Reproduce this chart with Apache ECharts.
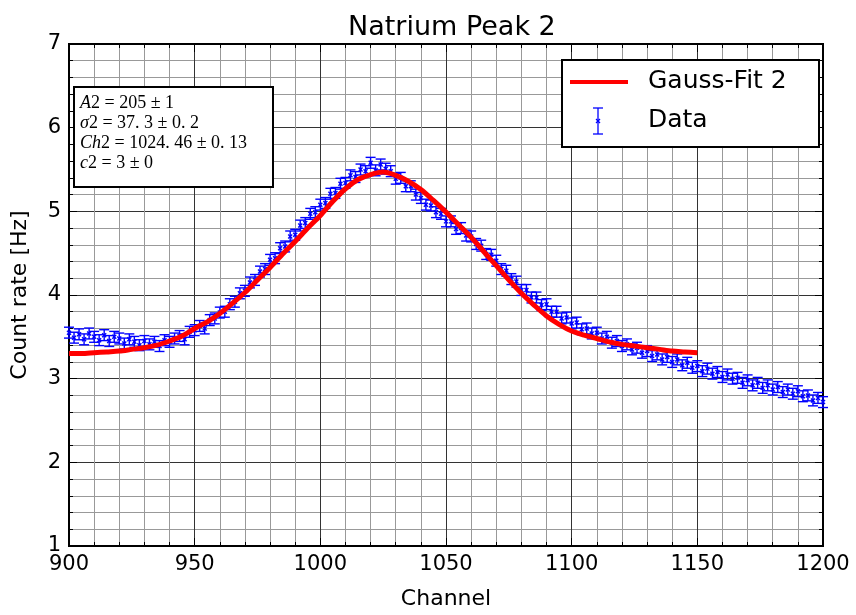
<html>
  <head>
    <meta charset="utf-8">
    <title>Natrium Peak 2</title>
    <script src="https://cdn.jsdelivr.net/npm/echarts@6.0.0/dist/echarts.min.js"></script>
    <style>
      html, body { margin: 0; padding: 0; background: #fff; }
      #main { width: 856px; height: 615px; }
    </style>
  </head>
  <body>
    <div id="main"></div>
    <script type="text/javascript">
      // measured data: channel / count rate [Hz]
      var dataChannels = [
        900, 902, 904, 906, 908, 910, 912, 914, 916, 918, 920, 922, 924, 926, 928, 930, 932, 934, 936, 938,
        940, 942, 944, 946, 948, 950, 952, 954, 956, 958, 960, 962, 964, 966, 968, 970, 972, 974, 976, 978,
        980, 982, 984, 986, 988, 990, 992, 994, 996, 998, 1000, 1002, 1004, 1006, 1008, 1010, 1012, 1014, 1016, 1018,
        1020, 1022, 1024, 1026, 1028, 1030, 1032, 1034, 1036, 1038, 1040, 1042, 1044, 1046, 1048, 1050, 1052, 1054, 1056, 1058,
        1060, 1062, 1064, 1066, 1068, 1070, 1072, 1074, 1076, 1078, 1080, 1082, 1084, 1086, 1088, 1090, 1092, 1094, 1096, 1098,
        1100, 1102, 1104, 1106, 1108, 1110, 1112, 1114, 1116, 1118, 1120, 1122, 1124, 1126, 1128, 1130, 1132, 1134, 1136, 1138,
        1140, 1142, 1144, 1146, 1148, 1150, 1152, 1154, 1156, 1158, 1160, 1162, 1164, 1166, 1168, 1170, 1172, 1174, 1176, 1178,
        1180, 1182, 1184, 1186, 1188, 1190, 1192, 1194, 1196, 1198, 1200
      ];
      var dataRates = [
        3.55, 3.49, 3.53, 3.47, 3.54, 3.50, 3.46, 3.52, 3.45, 3.50, 3.48, 3.42, 3.47, 3.44, 3.40, 3.45, 3.41, 3.44, 3.39, 3.46,
        3.44, 3.48, 3.51, 3.47, 3.56, 3.58, 3.63, 3.60, 3.70, 3.72, 3.79, 3.80, 3.89, 3.92, 4.02, 4.05, 4.15, 4.18, 4.28, 4.31,
        4.42, 4.44, 4.56, 4.58, 4.70, 4.72, 4.83, 4.86, 4.97, 4.99, 5.08, 5.10, 5.21, 5.22, 5.33, 5.34, 5.43, 5.41, 5.50, 5.48,
        5.58, 5.49, 5.56, 5.51, 5.48, 5.39, 5.40, 5.30, 5.30, 5.20, 5.16, 5.08, 5.07, 4.99, 4.97, 4.88, 4.88, 4.79, 4.80, 4.71,
        4.70, 4.61, 4.59, 4.49, 4.48, 4.41, 4.31, 4.29, 4.19, 4.16, 4.06, 4.06, 3.97, 3.97, 3.88, 3.89, 3.80, 3.80, 3.72, 3.73,
        3.66, 3.67, 3.59, 3.60, 3.54, 3.55, 3.48, 3.50, 3.43, 3.45, 3.39, 3.41, 3.35, 3.37, 3.31, 3.33, 3.27, 3.29, 3.23, 3.26,
        3.20, 3.23, 3.16, 3.19, 3.13, 3.15, 3.09, 3.12, 3.06, 3.08, 3.02, 3.05, 3.00, 3.01, 2.95, 2.98, 2.92, 2.95, 2.89, 2.92,
        2.87, 2.90, 2.84, 2.87, 2.82, 2.85, 2.79, 2.80, 2.74, 2.77, 2.72
      ];
      var dataError = 0.065;

      // fitted gauss curve
      var fitChannels = [
        900, 905, 910, 915, 920, 925, 930, 935, 940, 945, 950, 955, 960, 965, 970, 975, 980, 985, 990, 995,
        1000, 1005, 1010, 1015, 1020, 1025, 1030, 1035, 1040, 1045, 1050, 1055, 1060, 1065, 1070, 1075, 1080, 1085, 1090, 1095,
        1100, 1105, 1110, 1115, 1120, 1125, 1130, 1135, 1140, 1145, 1150
      ];
      var fitRates = [
        3.30, 3.30, 3.31, 3.32, 3.33, 3.35, 3.37, 3.40, 3.45, 3.51, 3.60, 3.68, 3.78, 3.90, 4.03, 4.18, 4.33, 4.49, 4.64, 4.80,
        4.95, 5.12, 5.27, 5.38, 5.44, 5.47, 5.43, 5.36, 5.26, 5.13, 4.99, 4.84, 4.69, 4.52, 4.35, 4.18, 4.02, 3.88, 3.75, 3.65,
        3.57, 3.52, 3.48, 3.44, 3.41, 3.39, 3.37, 3.35, 3.33, 3.32, 3.31
      ];

      var fitLines = [
        ['A', '2 = 205 ± 1'],
        ['σ', '2 = 37. 3 ± 0. 2'],
        ['Ch', '2 = 1024. 46 ± 0. 13'],
        ['c', '2 = 3 ± 0']
      ];

      var font = 'DejaVu Sans';
      var blue = '#0000ff';

      var chartDom = document.getElementById('main');
      var myChart = echarts.init(chartDom);

      function errorBar(params, api) {
        var x = api.value(0), y = api.value(1);
        var lo = api.coord([x, y - dataError]);
        var hi = api.coord([x, y + dataError]);
        var c = api.coord([x, y]);
        var cap = 5, m = 2;
        var st = { stroke: blue, lineWidth: 1.4 };
        return {
          type: 'group',
          children: [
            { type: 'line', shape: { x1: lo[0], y1: lo[1], x2: hi[0], y2: hi[1] }, style: st },
            { type: 'line', shape: { x1: lo[0] - cap, y1: lo[1], x2: lo[0] + cap, y2: lo[1] }, style: st },
            { type: 'line', shape: { x1: hi[0] - cap, y1: hi[1], x2: hi[0] + cap, y2: hi[1] }, style: st },
            { type: 'line', shape: { x1: c[0] - m, y1: c[1] - m, x2: c[0] + m, y2: c[1] + m }, style: st },
            { type: 'line', shape: { x1: c[0] - m, y1: c[1] + m, x2: c[0] + m, y2: c[1] - m }, style: st }
          ]
        };
      }

      var tickLabel = { color: '#000', fontFamily: font, fontSize: 21 };
      var gridLines = {
        splitLine: { show: true, lineStyle: { color: '#333', width: 1 } },
        minorSplitLine: { show: true, lineStyle: { color: '#999', width: 1 } }
      };

      function axisBase(extra) {
        var a = {
          type: 'value',
          axisLine: { show: true, onZero: false, lineStyle: { color: '#000', width: 2 } },
          axisTick: { show: true, inside: true, length: 8, lineStyle: { color: '#000', width: 1 } },
          minorTick: { show: true, splitNumber: 5, length: 4, lineStyle: { color: '#000', width: 1 } }
        };
        for (var k in extra) a[k] = extra[k];
        return a;
      }

      var option = {
        animation: false,
        backgroundColor: '#fff',
        title: {
          text: 'Natrium Peak 2',
          left: 343,
          top: 9,
          textStyle: { color: '#000', fontFamily: font, fontSize: 27, fontWeight: 'normal' }
        },
        grid: { left: 69, right: 33, top: 44, bottom: 66, show: true, borderColor: '#000', borderWidth: 2 },
        xAxis: [
          axisBase({
            min: 900, max: 1200, interval: 50,
            name: 'Channel', nameLocation: 'middle', nameGap: 42,
            nameTextStyle: { color: '#000', fontFamily: font, fontSize: 22 },
            axisLabel: Object.assign({ margin: 8, formatter: function (v) { return String(v); } }, tickLabel),
            splitLine: gridLines.splitLine,
            minorSplitLine: gridLines.minorSplitLine
          }),
          axisBase({
            min: 900, max: 1200, interval: 50, position: 'top',
            axisLabel: { show: false }, splitLine: { show: false }
          })
        ],
        yAxis: [
          axisBase({
            min: 1, max: 7, interval: 1,
            name: 'Count rate [Hz]', nameLocation: 'middle', nameGap: 38, nameRotate: 90,
            nameTextStyle: { color: '#000', fontFamily: font, fontSize: 22 },
            axisLabel: Object.assign({ margin: 8 }, tickLabel),
            splitLine: gridLines.splitLine,
            minorSplitLine: gridLines.minorSplitLine
          }),
          axisBase({
            min: 1, max: 7, interval: 1, position: 'right',
            axisLabel: { show: false }, splitLine: { show: false }
          })
        ],
        series: [
          {
            name: 'Data',
            type: 'custom',
            renderItem: errorBar,
            data: dataChannels.map(function (c, i) { return [c, dataRates[i]]; }),
            z: 3
          },
          {
            name: 'Gauss-Fit 2',
            type: 'line',
            data: fitChannels.map(function (c, i) { return [c, fitRates[i]]; }),
            smooth: 0.3,
            showSymbol: false,
            lineStyle: { color: '#ff0000', width: 5 },
            z: 4
          }
        ],
        graphic: [
          // parameter box
          {
            type: 'rect', left: 73, top: 86, z: 10,
            shape: { width: 199, height: 100 },
            style: { fill: '#fff', stroke: '#000', lineWidth: 2 }
          },
          {
            type: 'text', left: 80, top: 93, z: 11,
            style: {
              text: fitLines.map(function (l) { return '{i|' + l[0] + '}' + l[1]; }).join('\n'),
              rich: {
                i: { fontFamily: 'Liberation Serif', fontStyle: 'italic', fontSize: 18, lineHeight: 20, fill: '#000' }
              },
              fontFamily: 'Liberation Serif', fontSize: 18, lineHeight: 20, fill: '#000'
            }
          },
          // legend box
          {
            type: 'rect', left: 561, top: 59, z: 10,
            shape: { width: 257, height: 87 },
            style: { fill: '#fff', stroke: '#000', lineWidth: 2 }
          },
          {
            type: 'line', z: 11,
            shape: { x1: 570, y1: 82, x2: 628, y2: 82 },
            style: { stroke: '#ff0000', lineWidth: 4 }
          },
          {
            type: 'text', left: 648, top: 69, z: 11,
            style: { text: 'Gauss-Fit 2', fontFamily: font, fontSize: 25, fill: '#000' }
          },
          { type: 'line', z: 11, shape: { x1: 598, y1: 108, x2: 598, y2: 134 }, style: { stroke: blue, lineWidth: 1.3 } },
          { type: 'line', z: 11, shape: { x1: 593, y1: 108, x2: 603, y2: 108 }, style: { stroke: blue, lineWidth: 1.3 } },
          { type: 'line', z: 11, shape: { x1: 593, y1: 134, x2: 603, y2: 134 }, style: { stroke: blue, lineWidth: 1.3 } },
          { type: 'line', z: 11, shape: { x1: 596, y1: 119, x2: 600, y2: 123 }, style: { stroke: blue, lineWidth: 1.3 } },
          { type: 'line', z: 11, shape: { x1: 596, y1: 123, x2: 600, y2: 119 }, style: { stroke: blue, lineWidth: 1.3 } },
          {
            type: 'text', left: 648, top: 108, z: 11,
            style: { text: 'Data', fontFamily: font, fontSize: 25, fill: '#000' }
          }
        ]
      };

      option && myChart.setOption(option);
    </script>
  </body>
</html>
